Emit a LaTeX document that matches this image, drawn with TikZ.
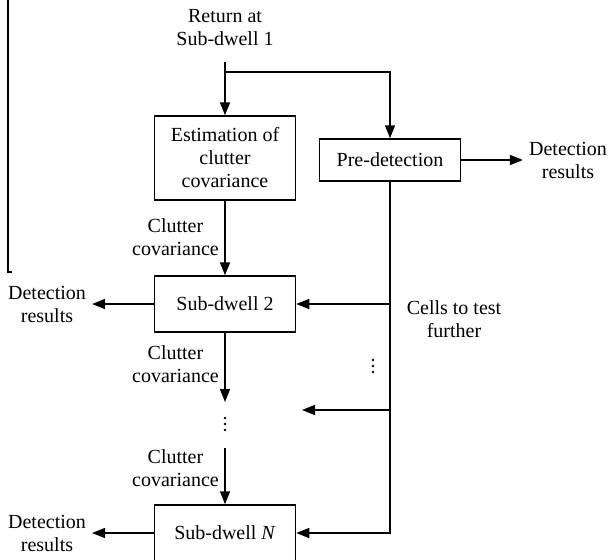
\documentclass[tikz,border=0pt]{standalone}
\usepackage{fontspec}
\setmainfont{Liberation Serif}
\usetikzlibrary{arrows.meta}
\tikzset{
  blk/.style={draw, line width=1.5pt, minimum width=141pt, align=center, inner sep=0pt},
  lbl/.style={align=center, inner sep=0pt},
  flow/.style={line width=1.5pt, -{Triangle[length=13pt,width=10pt]}}
}
\begin{document}
\begin{tikzpicture}[x=1pt, y=-1pt, font=\fontsize{20}{23}\selectfont]
  \useasboundingbox (0,0) rectangle (609,559);
  \draw[line width=1.2pt] (8,0) -- (8,272) -- (12,272);
  \node[lbl] (ret) at (225,28) {Return at\\Sub-dwell 1};
  \coordinate (top) at (225,62);
  \coordinate (split) at (225,72);
  \node[blk, minimum height=84pt] (est) at (225,158) {Estimation of\\clutter\\covariance};
  \node[blk, minimum height=42pt] (pre) at (390,160) {Pre-detection};
  \node[lbl] (det0) at (568,160) {Detection\\results};
  \node[blk, minimum height=56pt] (sub2) at (225,304) {Sub-dwell 2};
  \node[lbl] (det2) at (47,304) {Detection\\results};
  \node[lbl] (cells) at (454,319) {Cells to test\\further};
  \node[blk, minimum height=56pt] (subN) at (225,533) {Sub-dwell \textit{N}};
  \node[lbl] (detN) at (47,533) {Detection\\results};
  \node[lbl, anchor=east] (clut1) at (219,237) {Clutter\\covariance};
  \node[lbl, anchor=east] (clut2) at (219,364) {Clutter\\covariance};
  \node[lbl, anchor=east] (clut3) at (219,468) {Clutter\\covariance};
  % vertical ellipses
  \foreach \d in {0,6,12} {
    \fill (225,418+\d) circle (1.4pt);
    \fill (373,360+\d) circle (1.4pt);
  }
  \coordinate (gap) at (225,402);
  \coordinate (resume) at (225,448);
  \coordinate (open) at (302,410);
  \begin{scope}[flow]
    \draw (top) -- (est.north);
    \draw (split) -| (pre.north);
    \draw[shorten >=6pt] (pre.east) -- (det0.west);
    \draw (est.south) -- (sub2.north);
    \draw[shorten >=6pt] (sub2.west) -- (det2.east);
    \draw (sub2.south) -- (gap);
    \draw (resume) -- (subN.north);
    \draw[shorten >=6pt] (subN.west) -- (detN.east);
    \draw (pre.south) |- (sub2.east);
    \draw (pre.south) |- (open);
    \draw (pre.south) |- (subN.east);
  \end{scope}
\end{tikzpicture}
\end{document}
